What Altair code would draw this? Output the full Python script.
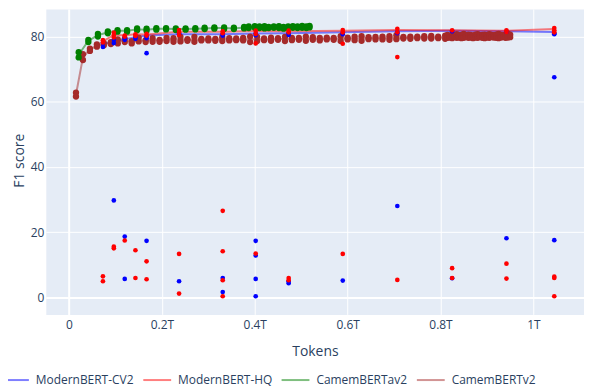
import altair as alt
import pandas as pd

models = ["ModernBERT-CV2", "ModernBERT-HQ", "CamemBERTav2", "CamemBERTv2"]
line_colors = ["rgba(0,0,255,0.5)", "rgba(255,0,0,0.5)", "rgba(0,128,0,0.5)", "rgba(165,42,42,0.5)"]
marker_colors = ["#0000ff", "#ff0000", "#008000", "#a52a2a"]
marker_sizes = [22, 22, 40, 40]
x_ticks = [0, 0.2, 0.4, 0.6, 0.8, 1.0]
y_ticks = [0, 20, 40, 60, 80]

# ModernBERT checkpoints (tokens, in T)
mb_x = [0.073, 0.0965, 0.120, 0.143, 0.167, 0.237, 0.331, 0.402, 0.473, 0.5895, 0.707, 0.825, 0.942, 1.045]
cv2_line = [77.8, 78.4, 79.2, 79.8, 80.3, 80.7, 80.7, 80.9, 81.0, 81.3, 81.6, 81.8, 81.6, 81.4]
hq_line = [78.5, 80.5, 80.4, 80.7, 80.6, 81.5, 81.5, 81.7, 81.6, 81.8, 82.0, 81.9, 81.8, 82.3]
cv2_scores = [
    [76.8, 78.0],
    [78.0, 79.0, 29.7],
    [79.0, 79.6, 18.6, 5.6],
    [79.3, 79.8],
    [79.5, 80.0, 74.9, 17.3],
    [80.7, 81.0, 4.9],
    [80.3, 80.8, 5.9, 1.6],
    [80.4, 80.9, 17.3, 12.8, 5.6, 0.3],
    [80.5, 81.0, 4.9, 4.3],
    [80.7, 81.2, 5.1],
    [81.0, 81.4, 28.0],
    [81.6, 5.8],
    [81.5, 18.1],
    [80.7, 81.0, 67.5, 17.5],
]
hq_scores = [
    [78.2, 78.9, 6.4, 4.9],
    [79.7, 80.5, 81.2, 15.5, 15.0],
    [80.0, 80.3, 17.4],
    [80.2, 80.7, 14.4, 5.9],
    [80.3, 80.8, 11.0, 5.5],
    [80.5, 81.3, 82.0, 13.3, 1.1],
    [81.0, 81.6, 26.5, 14.1, 5.2, 0.3],
    [80.8, 81.8, 77.9, 13.4],
    [81.3, 81.8, 5.9, 5.2],
    [81.3, 82.0, 77.8, 13.3],
    [81.3, 82.4, 73.7, 5.3],
    [81.9, 8.9, 5.9],
    [81.4, 81.9, 10.3, 5.7],
    [81.3, 81.9, 82.6, 6.3, 5.9, 0.3],
]

# CamemBERTav2 checkpoints
g_x = [0.0208, 0.0416, 0.0622, 0.0836, 0.1044, 0.125, 0.1466, 0.167, 0.188, 0.209,
       0.230, 0.251, 0.272, 0.292, 0.313, 0.334, 0.355, 0.377, 0.387, 0.400,
       0.410, 0.421, 0.430, 0.441, 0.452, 0.462, 0.472, 0.482, 0.492, 0.502, 0.511, 0.518]
g_hi = [75.2, 79.0, 80.8, 81.6, 82.0, 82.0, 82.5, 82.4, 82.6, 82.6,
        82.5, 82.5, 82.6, 82.7, 82.8, 82.8, 82.7, 83.0, 83.1, 83.2,
        83.1, 83.2, 83.0, 83.1, 83.2, 83.0, 83.1, 83.2, 83.1, 83.3, 83.1, 83.3]
g_lo = [73.6, 78.3, 80.0, 81.0, 81.5, 81.5, 81.9, 81.8, 82.1, 82.2,
        82.0, 82.1, 82.2, 82.3, 82.4, 82.3, 82.3, 82.5, 82.6, 82.7,
        82.6, 82.5, 82.6, 82.7, 82.6, 82.4, 82.6, 82.7, 82.6, 82.7, 82.6, 82.8]
g_line = [74.4, 78.7, 80.4, 81.3, 81.8, 81.8, 82.2, 82.1, 82.4, 82.4,
          82.3, 82.3, 82.4, 82.5, 82.6, 82.6, 82.5, 82.8, 82.9, 83.0,
          82.9, 82.9, 82.8, 82.9, 82.9, 82.7, 82.9, 83.0, 82.9, 83.0, 82.9, 83.1]

# CamemBERTv2 checkpoints
b_x = [0.015, 0.030, 0.045, 0.060, 0.075, 0.090, 0.105, 0.120, 0.135, 0.150,
       0.165, 0.180, 0.195, 0.210, 0.225, 0.240, 0.255, 0.270, 0.285, 0.300,
       0.315, 0.330, 0.345, 0.360, 0.375, 0.390, 0.405, 0.420, 0.435, 0.450,
       0.465, 0.480, 0.495, 0.510, 0.525, 0.540, 0.555, 0.570, 0.585, 0.600,
       0.615, 0.630, 0.645, 0.660, 0.675, 0.690, 0.705, 0.720, 0.735, 0.750,
       0.765, 0.780, 0.795, 0.810,
       0.815, 0.820, 0.825, 0.830, 0.835, 0.840, 0.845, 0.850, 0.855, 0.860,
       0.865, 0.870, 0.875, 0.880, 0.885, 0.890, 0.895, 0.900, 0.905, 0.910,
       0.915, 0.920, 0.925, 0.930, 0.935, 0.940, 0.945, 0.950]
b_hi = [62.8, 74.6, 76.3, 77.6, 78.0, 78.3, 79.1, 79.3, 78.6, 79.7,
        78.9, 79.5, 79.0, 79.6, 79.5, 79.9, 79.2, 79.9, 79.3, 79.4,
        79.3, 79.8, 79.5, 79.4, 79.6, 80.0, 79.9, 79.4, 79.7, 79.5,
        79.9, 79.6, 79.6, 80.0, 79.8, 79.6, 79.7, 79.6, 80.1, 79.7,
        80.0, 80.1, 79.8, 79.9, 80.0, 80.1, 80.4, 79.9, 80.0, 80.0,
        80.1, 80.2, 80.0, 80.3,
        80.5, 80.3, 80.6, 80.4, 80.7, 80.4, 80.5, 80.8, 80.4, 80.6,
        80.5, 80.3, 80.6, 80.7, 80.4, 80.5, 80.6, 80.4, 80.7, 80.5,
        80.4, 80.6, 80.8, 80.5, 80.4, 80.6, 80.9, 80.6]
b_lo = [61.6, 72.8, 75.6, 76.9, 77.3, 77.7, 77.9, 78.3, 77.9, 78.5,
        78.3, 78.4, 78.4, 78.6, 78.4, 78.5, 78.7, 78.4, 78.8, 78.8,
        78.7, 78.6, 78.8, 78.9, 78.8, 78.3, 78.6, 78.9, 78.7, 79.0,
        78.6, 78.9, 79.0, 78.7, 79.0, 78.8, 79.1, 79.0, 78.6, 79.1,
        78.9, 78.7, 79.2, 79.1, 79.1, 79.0, 79.2, 79.4, 79.3, 79.5,
        79.4, 79.4, 79.5, 79.3,
        79.6, 79.7, 79.5, 79.8, 79.6, 79.7, 79.5, 79.6, 79.8, 79.6,
        79.7, 79.5, 79.7, 79.6, 79.8, 79.6, 79.5, 79.7, 79.6, 79.8,
        79.7, 79.6, 79.5, 79.7, 79.8, 79.6, 79.7, 79.8]
b_line = [62.2, 73.6, 76.0, 77.2, 77.7, 78.0, 78.5, 78.8, 78.3, 79.0,
          78.6, 79.0, 78.7, 79.1, 79.0, 79.2, 79.0, 79.1, 79.0, 79.1,
          79.0, 79.2, 79.2, 79.1, 79.2, 79.1, 79.2, 79.1, 79.2, 79.2,
          79.3, 79.2, 79.3, 79.3, 79.4, 79.2, 79.4, 79.3, 79.3, 79.4,
          79.4, 79.4, 79.5, 79.5, 79.5, 79.5, 79.7, 79.6, 79.6, 79.7,
          79.7, 79.8, 79.7, 79.8,
          80.0, 80.0, 80.1, 80.1, 80.1, 80.0, 80.0, 80.2, 80.1, 80.1,
          80.1, 79.9, 80.1, 80.2, 80.1, 80.0, 80.0, 80.0, 80.1, 80.1,
          80.0, 80.1, 80.2, 80.1, 80.1, 80.1, 80.3, 80.2]

# ---- tables ----
line_rows = []
for name, xs, ys in [(models[0], mb_x, cv2_line), (models[1], mb_x, hq_line),
                     (models[2], g_x, g_line), (models[3], b_x, b_line)]:
    for xv, yv in zip(xs, ys):
        line_rows.append({"model": name, "tokens": xv, "f1": yv})
lines_df = pd.DataFrame(line_rows)

pt_rows = []
for xv, hi, lo in zip(b_x, b_hi, b_lo):
    pt_rows.append({"model": models[3], "tokens": xv, "f1": hi, "msize": marker_sizes[3]})
    pt_rows.append({"model": models[3], "tokens": xv, "f1": lo, "msize": marker_sizes[3]})
for xv, hi, lo in zip(g_x, g_hi, g_lo):
    pt_rows.append({"model": models[2], "tokens": xv, "f1": hi, "msize": marker_sizes[2]})
    pt_rows.append({"model": models[2], "tokens": xv, "f1": lo, "msize": marker_sizes[2]})
for xv, vals in zip(mb_x, cv2_scores):
    for v in vals:
        pt_rows.append({"model": models[0], "tokens": xv, "f1": v, "msize": marker_sizes[0]})
for xv, vals in zip(mb_x, hq_scores):
    for v in vals:
        pt_rows.append({"model": models[1], "tokens": xv, "f1": v, "msize": marker_sizes[1]})
pts_df = pd.DataFrame(pt_rows)

text_color = "#2a3f5f"
zero_width = {"condition": {"test": "datum.value === 0", "value": 2}, "value": 1}

x_enc = alt.X(
    "tokens:Q",
    scale=alt.Scale(domain=[-0.05, 1.109], nice=False, zero=False),
    axis=alt.Axis(
        values=x_ticks,
        labelExpr="datum.value == 0 ? '0' : format(datum.value, '~g') + 'T'",
        title="Tokens", grid=True, gridColor="white", gridWidth=zero_width,
        domain=False, ticks=False, tickSize=0, labelPadding=5,
        labelFont="Open Sans", labelFontSize=12, labelColor=text_color,
        titleFont="Open Sans", titleFontSize=14, titleFontWeight="normal",
        titleColor=text_color, titleY=37, titleBaseline="middle",
    ),
)
y_enc = alt.Y(
    "f1:Q",
    scale=alt.Scale(domain=[-5.28, 88.46], nice=False, zero=False),
    axis=alt.Axis(
        values=y_ticks, title="F1 score", grid=True, gridColor="white",
        gridWidth=zero_width, domain=False, ticks=False, tickSize=0,
        labelPadding=2, labelFont="Open Sans", labelFontSize=12,
        labelColor=text_color, titleFont="Open Sans", titleFontSize=14,
        titleFontWeight="normal", titleColor=text_color, titleAngle=270,
        titleX=-22, titleY=152, titleAlign="center", titleBaseline="alphabetic",
    ),
)

lines = alt.Chart(lines_df).mark_line(strokeWidth=2).encode(
    x=x_enc,
    y=y_enc,
    color=alt.Color(
        "model:N",
        scale=alt.Scale(domain=models, range=line_colors),
        legend=alt.Legend(
            orient="none", legendX=-46, legendY=358, direction="horizontal",
            title=None, symbolType="stroke", symbolSize=784,
            symbolStrokeWidth=2, labelFont="Open Sans",
            labelFontSize=12, labelColor=text_color, labelOffset=6,
            columnPadding=5, padding=0, gridAlign="none",
        ),
    ),
)

points = alt.Chart(pts_df).mark_circle(opacity=1).encode(
    x=x_enc,
    y=y_enc,
    color=alt.Color("model:N", scale=alt.Scale(domain=models, range=marker_colors), legend=None),
    size=alt.Size("msize:Q", scale=None, legend=None),
)

chart = (
    alt.layer(lines, points)
    .resolve_scale(color="independent")
    .properties(
        width=541, height=307,
        autosize=alt.AutoSizeParams(type="none"),
        padding={"left": 38, "top": 0, "right": 0, "bottom": 72},
        background="white",
    )
    .configure_view(fill="#E5ECF6", stroke="transparent")
)

chart.save("out.html", embed_options={"renderer": "svg", "actions": False})
